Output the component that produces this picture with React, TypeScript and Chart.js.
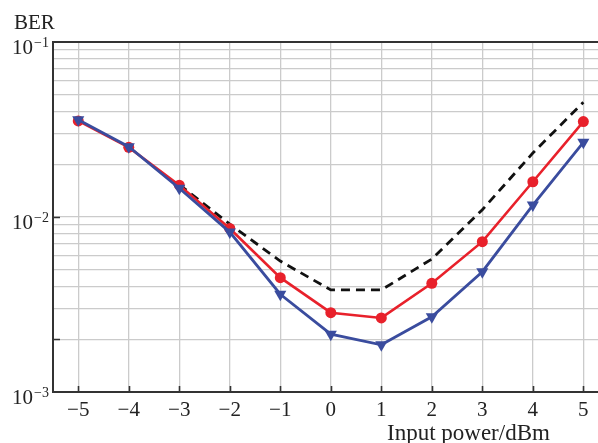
import React, { useEffect, useRef } from "react";
import { Chart, registerables } from "chart.js";

Chart.register(...registerables);

const X_VALUES = [-5, -4, -3, -2, -1, 0, 1, 2, 3, 4, 5];
const RED_BER = [0.0354, 0.025, 0.0152, 0.0086, 0.0045, 0.00284, 0.00265, 0.00418, 0.00723, 0.0159, 0.0351];
const BLUE_BER = [0.036, 0.0252, 0.0146, 0.0082, 0.00362, 0.00214, 0.00186, 0.00269, 0.00487, 0.0117, 0.0267];
const DASHED_BER = [null, null, 0.0153, 0.0091, 0.0056, 0.00383, 0.00383, 0.00575, 0.011, 0.0232, 0.0453];

const X_TICK_LABELS = ["−5", "−4", "−3", "−2", "−1", "0", "1", "2", "3", "4", "5"];
const Y_GRID = [
  0.001, 0.002, 0.003, 0.004, 0.005, 0.006, 0.007, 0.008, 0.009,
  0.01, 0.02, 0.03, 0.04, 0.05, 0.06, 0.07, 0.08, 0.09, 0.1,
];
const Y_LABEL_VALUES = [0.1, 0.01, 0.001];
const Y_LABEL_EXPONENTS = ["−1", "−2", "−3"];
const Y_TICK_MARKS = [0.01, 0.002];
const Y_TITLE = "BER";
const X_TITLE = "Input power/dBm";

const SERIF = "'Liberation Serif', 'DejaVu Serif', serif";

const decor = {
  id: "decor",
  afterDraw(chart: any) {
    const { ctx, chartArea: a, scales } = chart;
    const x = scales.x;
    const y = scales.y;
    ctx.save();
    // frame
    ctx.strokeStyle = "#333";
    ctx.lineWidth = 2;
    ctx.beginPath();
    ctx.moveTo(chart.width, a.top);
    ctx.lineTo(a.left, a.top);
    ctx.lineTo(a.left, a.bottom);
    ctx.lineTo(chart.width, a.bottom);
    ctx.stroke();
    // tick marks
    ctx.lineWidth = 1.6;
    ctx.beginPath();
    X_VALUES.forEach((v) => {
      const px = Math.round(x.getPixelForValue(v)) + 0.5;
      ctx.moveTo(px, a.bottom);
      ctx.lineTo(px, a.bottom - 6);
    });
    Y_TICK_MARKS.forEach((v) => {
      const py = Math.round(y.getPixelForValue(v)) + 0.5;
      ctx.moveTo(a.left, py);
      ctx.lineTo(a.left + 7, py);
    });
    ctx.stroke();
    // labels
    ctx.fillStyle = "#222";
    ctx.font = `21px ${SERIF}`;
    ctx.textAlign = "center";
    ctx.textBaseline = "alphabetic";
    X_VALUES.forEach((v, i) => {
      ctx.fillText(X_TICK_LABELS[i], x.getPixelForValue(v), a.bottom + 24);
    });
    Y_LABEL_VALUES.forEach((v, i) => {
      const py = y.getPixelForValue(v);
      ctx.font = `21px ${SERIF}`;
      ctx.textAlign = "right";
      ctx.fillText("10", 33, py + 12);
      ctx.font = `14px ${SERIF}`;
      ctx.textAlign = "left";
      ctx.fillText(Y_LABEL_EXPONENTS[i], 34, py + 5);
    });
    ctx.font = `21px ${SERIF}`;
    ctx.textAlign = "left";
    ctx.fillText(Y_TITLE, 14, 29);
    ctx.font = `23px ${SERIF}`;
    ctx.fillText(X_TITLE, 387, 440);
    ctx.restore();
  },
};

export default function App() {
  const ref = useRef<HTMLCanvasElement | null>(null);
  useEffect(() => {
    if (!ref.current) return;
    const toPts = (arr: (number | null)[]) => X_VALUES.map((xv, i) => ({ x: xv, y: arr[i] }));
    const chart = new Chart(ref.current, {
      type: "line",
      data: {
        datasets: [
          {
            label: "blue",
            data: toPts(BLUE_BER) as any,
            borderColor: "#3a4c9e",
            backgroundColor: "#3a4c9e",
            borderWidth: 2.8,
            pointStyle: "triangle",
            rotation: 180,
            pointRadius: 7,
            pointBorderWidth: 0,
            order: 1,
          },
          {
            label: "red",
            data: toPts(RED_BER) as any,
            borderColor: "#e8212b",
            backgroundColor: "#e8212b",
            borderWidth: 2.6,
            pointStyle: "circle",
            pointRadius: 5.5,
            pointBorderWidth: 0,
            order: 2,
          },
          {
            label: "dashed",
            data: toPts(DASHED_BER) as any,
            borderColor: "#111",
            borderWidth: 2.8,
            borderDash: [9, 6],
            pointRadius: 0,
            spanGaps: false,
            order: 3,
          },
        ],
      },
      options: {
        responsive: false,
        animation: false,
        devicePixelRatio: 1,
        layout: { autoPadding: false, padding: { left: 53, top: 42, right: 0, bottom: 51 } },
        plugins: { legend: { display: false }, tooltip: { enabled: false }, title: { display: false } },
        scales: {
          x: {
            type: "linear",
            min: -5.5,
            max: 5.29,
            afterBuildTicks: (s: any) => {
              s.ticks = X_VALUES.map((v) => ({ value: v }));
            },
            ticks: { display: false },
            border: { display: false },
            grid: { color: "#cbcbcb", lineWidth: 1.3, drawTicks: false },
          },
          y: {
            type: "logarithmic",
            min: 0.001,
            max: 0.1,
            afterBuildTicks: (s: any) => {
              s.ticks = Y_GRID.map((v) => ({ value: v }));
            },
            ticks: { display: false },
            border: { display: false },
            grid: { color: "#cbcbcb", lineWidth: 1.3, drawTicks: false },
          },
        },
      },
      plugins: [decor],
    });
    return () => chart.destroy();
  }, []);
  return (
    <div style={{ position: "absolute", left: 0, top: 0, width: 598, height: 443, background: "#fff" }}>
      <canvas ref={ref} width={598} height={443} style={{ width: 598, height: 443, display: "block" }} />
    </div>
  );
}
